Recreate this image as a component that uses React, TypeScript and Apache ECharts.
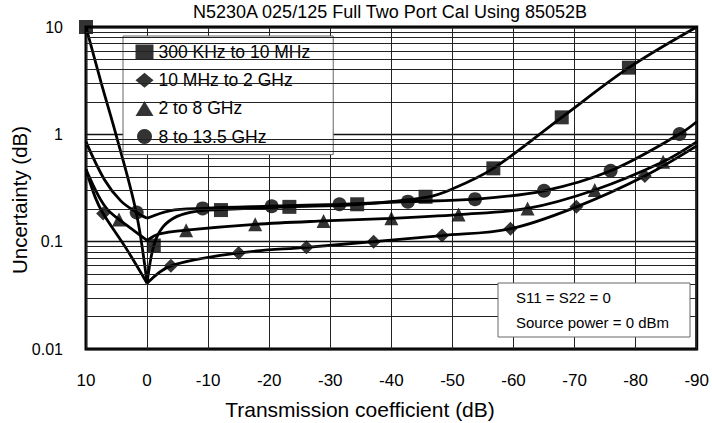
import React, { useEffect, useRef } from "react";
import * as echarts from "echarts";

const FONT = "'Liberation Sans', Arial, sans-serif";

const titleText = "N5230A 025/125 Full Two Port Cal Using 85052B";
const xAxisName = "Transmission coefficient (dB)";
const yAxisName = "Uncertainty (dB)";
const noteLines = ["S11 = S22 = 0", "Source power = 0 dBm"];

const seriesNames = ["300 KHz to 10 MHz", "10 MHz to 2 GHz", "2 to 8 GHz", "8 to 13.5 GHz"];
const seriesIcons = ["rect", "diamond", "triangle", "circle"];

// minor log grid lines
const minorGrid = [0.02, 0.03, 0.04, 0.05, 0.06, 0.07, 0.08, 0.09, 0.2, 0.3, 0.4, 0.5, 0.6, 0.7, 0.8, 0.9, 2, 3, 4, 5, 6, 7, 8, 9];

// 300 KHz to 10 MHz (squares)
const squareLeft = [[10, 10], [7.5, 3.0], [5.1, 1.0], [1.8, 0.19], [0, 0.041]];
const squareRight = [[0, 0.041], [-1.1, 0.092], [-2.6, 0.137], [-4.9, 0.172], [-8, 0.192], [-12.1, 0.199], [-23.3, 0.211], [-34.4, 0.222], [-45.6, 0.258], [-50, 0.31], [-56.7, 0.482], [-67.9, 1.44], [-78.9, 4.18], [-90, 10]];
const squareMarks = [[10, 10], [-1.1, 0.092], [-12.1, 0.197], [-23.3, 0.211], [-34.4, 0.223], [-45.6, 0.262], [-56.7, 0.482], [-67.9, 1.44], [-78.9, 4.18]];

// 10 MHz to 2 GHz (diamonds)
const diamondLeft = [[10, 0.47], [8.5, 0.26], [7.2, 0.183], [3.5, 0.088], [0, 0.041]];
const diamondRight = [[0, 0.041], [-3.9, 0.0595], [-15, 0.0785], [-26.1, 0.0886], [-37.1, 0.1], [-48.3, 0.114], [-59.5, 0.132], [-70.3, 0.211], [-81.5, 0.409], [-90, 0.78]];
const diamondMarks = [[7.2, 0.183], [-3.9, 0.0595], [-15, 0.0785], [-26.1, 0.0886], [-37.1, 0.1], [-48.3, 0.114], [-59.5, 0.132], [-70.3, 0.211], [-81.5, 0.409]];

// 2 to 8 GHz (triangles)
const triangleLeft = [[10, 0.47], [8, 0.27], [6.5, 0.2], [4.6, 0.161], [2, 0.125], [0, 0.103]];
const triangleRight = [[0, 0.103], [-2, 0.118], [-6.4, 0.128], [-17.7, 0.145], [-28.9, 0.156], [-40, 0.165], [-51, 0.179], [-62.3, 0.204], [-73.3, 0.303], [-84.5, 0.555], [-90, 0.85]];
const triangleMarks = [[4.6, 0.161], [-6.4, 0.128], [-17.7, 0.145], [-28.9, 0.156], [-40, 0.165], [-51, 0.179], [-62.3, 0.204], [-73.3, 0.303], [-84.5, 0.555]];

// 8 to 13.5 GHz (circles)
const circleLeft = [[10, 0.85], [7, 0.38], [4.3, 0.24], [1.7, 0.187], [0, 0.165]];
const circleRight = [[0, 0.165], [-3.7, 0.194], [-9.1, 0.204], [-20.4, 0.214], [-31.5, 0.223], [-42.7, 0.236], [-53.7, 0.249], [-65, 0.298], [-75.9, 0.458], [-87.2, 1.006], [-90, 1.31]];
const circleMarks = [[1.7, 0.187], [-9.1, 0.204], [-20.4, 0.214], [-31.5, 0.223], [-42.7, 0.236], [-53.7, 0.249], [-65, 0.298], [-75.9, 0.458], [-87.2, 1.006]];

const curves = [
  [squareLeft, squareRight],
  [diamondLeft, diamondRight],
  [triangleLeft, triangleRight],
  [circleLeft, circleRight],
];
const marks = [squareMarks, diamondMarks, triangleMarks, circleMarks];

export default function App() {
  const ref = useRef<HTMLDivElement>(null);
  useEffect(() => {
    document.body.style.margin = "0";
    if (!ref.current) return;
    const chart = echarts.init(ref.current, undefined, { renderer: "svg" });
    const series: any[] = [];
    series.push({
      name: "minor-grid",
      type: "line",
      data: [],
      z: 1,
      silent: true,
      markLine: {
        silent: true,
        symbol: ["none", "none"],
        label: { show: false },
        lineStyle: { color: "#222", width: 1, type: "solid" },
        data: minorGrid.map((v) => ({ yAxis: v })),
      },
    });
    curves.forEach((pair, i) => {
      pair.forEach((seg, j) => {
        series.push({
          name: seriesNames[i] + (j === 0 ? " (a)" : " (b)"),
          type: "line",
          data: seg,
          smooth: 0.35,
          showSymbol: false,
          symbol: "none",
          z: 3,
          lineStyle: { color: "#000", width: 2.8 },
          silent: true,
        });
      });
    });
    marks.forEach((m, i) => {
      series.push({
        name: seriesNames[i],
        type: "scatter",
        data: m,
        symbol: seriesIcons[i],
        symbolSize: 14,
        z: 4,
        itemStyle: { color: "#000" },
        silent: true,
      });
    });
    chart.setOption({
      animation: false,
      grid: { left: 86, right: 13, top: 27, bottom: 74, show: true, borderColor: "#000", borderWidth: 3 },
      xAxis: {
        type: "value",
        min: -90,
        max: 10,
        interval: 10,
        inverse: true,
        axisLine: { show: false },
        axisTick: { show: false },
        axisLabel: { fontFamily: FONT, fontSize: 17, color: "#000", margin: 23 },
        splitLine: { show: true, lineStyle: { color: "#222", width: 1 } },
      },
      yAxis: {
        type: "log",
        logBase: 10,
        min: 0.01,
        max: 10,
        axisLine: { show: false },
        axisTick: { show: false },
        axisLabel: { fontFamily: FONT, fontSize: 16, color: "#000", margin: 23 },
        splitLine: { show: true, lineStyle: { color: "#111", width: 1.3 } },
      },
      legend: {
        orient: "vertical",
        left: 123,
        top: 36,
        padding: [7, 23, 9, 12.5],
        itemGap: 10.2,
        itemWidth: 18,
        itemHeight: 15,
        selectedMode: false,
        backgroundColor: "#fff",
        borderColor: "#666",
        borderWidth: 1,
        textStyle: { fontFamily: FONT, fontSize: 17.5, color: "#000", lineHeight: 18 },
        data: seriesNames.map((n, i) => ({ name: n, icon: seriesIcons[i] })),
      },
      graphic: [
        {
          type: "text",
          x: 390,
          y: 12,
          z: 10,
          style: { text: titleText, fontFamily: FONT, fontSize: 18, fill: "#000", align: "center", verticalAlign: "middle" },
        },
        {
          type: "text",
          x: 360,
          y: 409,
          z: 10,
          style: { text: xAxisName, fontFamily: FONT, fontSize: 21, fill: "#000", align: "center", verticalAlign: "middle" },
        },
        {
          type: "text",
          x: 19,
          y: 200,
          rotation: Math.PI / 2,
          z: 10,
          style: { text: yAxisName, fontFamily: FONT, fontSize: 20.5, fill: "#000", align: "center", verticalAlign: "middle" },
        },
        {
          type: "rect",
          z: 10,
          shape: { x: 498, y: 283, width: 192, height: 54 },
          style: { fill: "#fff", stroke: "#666", lineWidth: 1 },
        },
        {
          type: "text",
          x: 516,
          y: 297,
          z: 11,
          style: { text: noteLines[0], fontFamily: FONT, fontSize: 15, fill: "#000", align: "left", verticalAlign: "middle" },
        },
        {
          type: "text",
          x: 516,
          y: 322,
          z: 11,
          style: { text: noteLines[1], fontFamily: FONT, fontSize: 15, fill: "#000", align: "left", verticalAlign: "middle" },
        },
      ],
      series,
    });
    return () => chart.dispose();
  }, []);
  return <div ref={ref} style={{ width: 712, height: 423 }} />;
}
